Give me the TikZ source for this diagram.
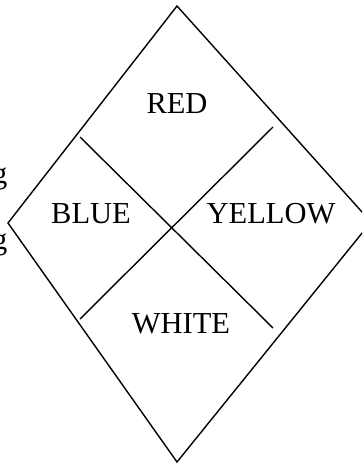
\documentclass[tikz,border=0pt]{standalone}
\usepackage{fontspec}
\setmainfont{Liberation Serif}
\usepackage{tikz}
\usetikzlibrary{positioning,calc}

\begin{document}
\begin{tikzpicture}[x=1pt, y=-1pt, line width=1.4pt,
    lbl/.style={anchor=base, inner sep=0pt, font=\fontsize{30.5}{36}\selectfont}]
    \useasboundingbox (0, 0) rectangle (362, 463);
    \clip (0, 0) rectangle (362, 463);

    % Corners of the diamond
    \coordinate (top) at (177, 6);
    \coordinate (left) at (8, 223);
    \coordinate (bottom) at (177, 462);
    \coordinate (right) at (371, 222);
    \draw (top) -- (left) -- (bottom) -- (right) -- cycle;

    % Dividing lines
    \coordinate (nw) at (80, 137);
    \coordinate (se) at (273, 328);
    \coordinate (ne) at (273, 127);
    \coordinate (sw) at (80, 319);
    \draw (nw) -- (se);
    \draw (ne) -- (sw);

    % Field labels
    \node[lbl] (red) at (177, 113) {RED};
    \node[lbl] (blue) at (91, 223) {BLUE};
    \node[lbl] (yellow) at (271, 223) {YELLOW};
    \node[lbl] (white) at (181, 333) {WHITE};

    % Text cut off at the left edge
    \node[lbl, anchor=base east] (g1) at (8, 183) {g};
    \node[lbl, anchor=base east] (g2) at (8, 249) {g};
\end{tikzpicture}
\end{document}
